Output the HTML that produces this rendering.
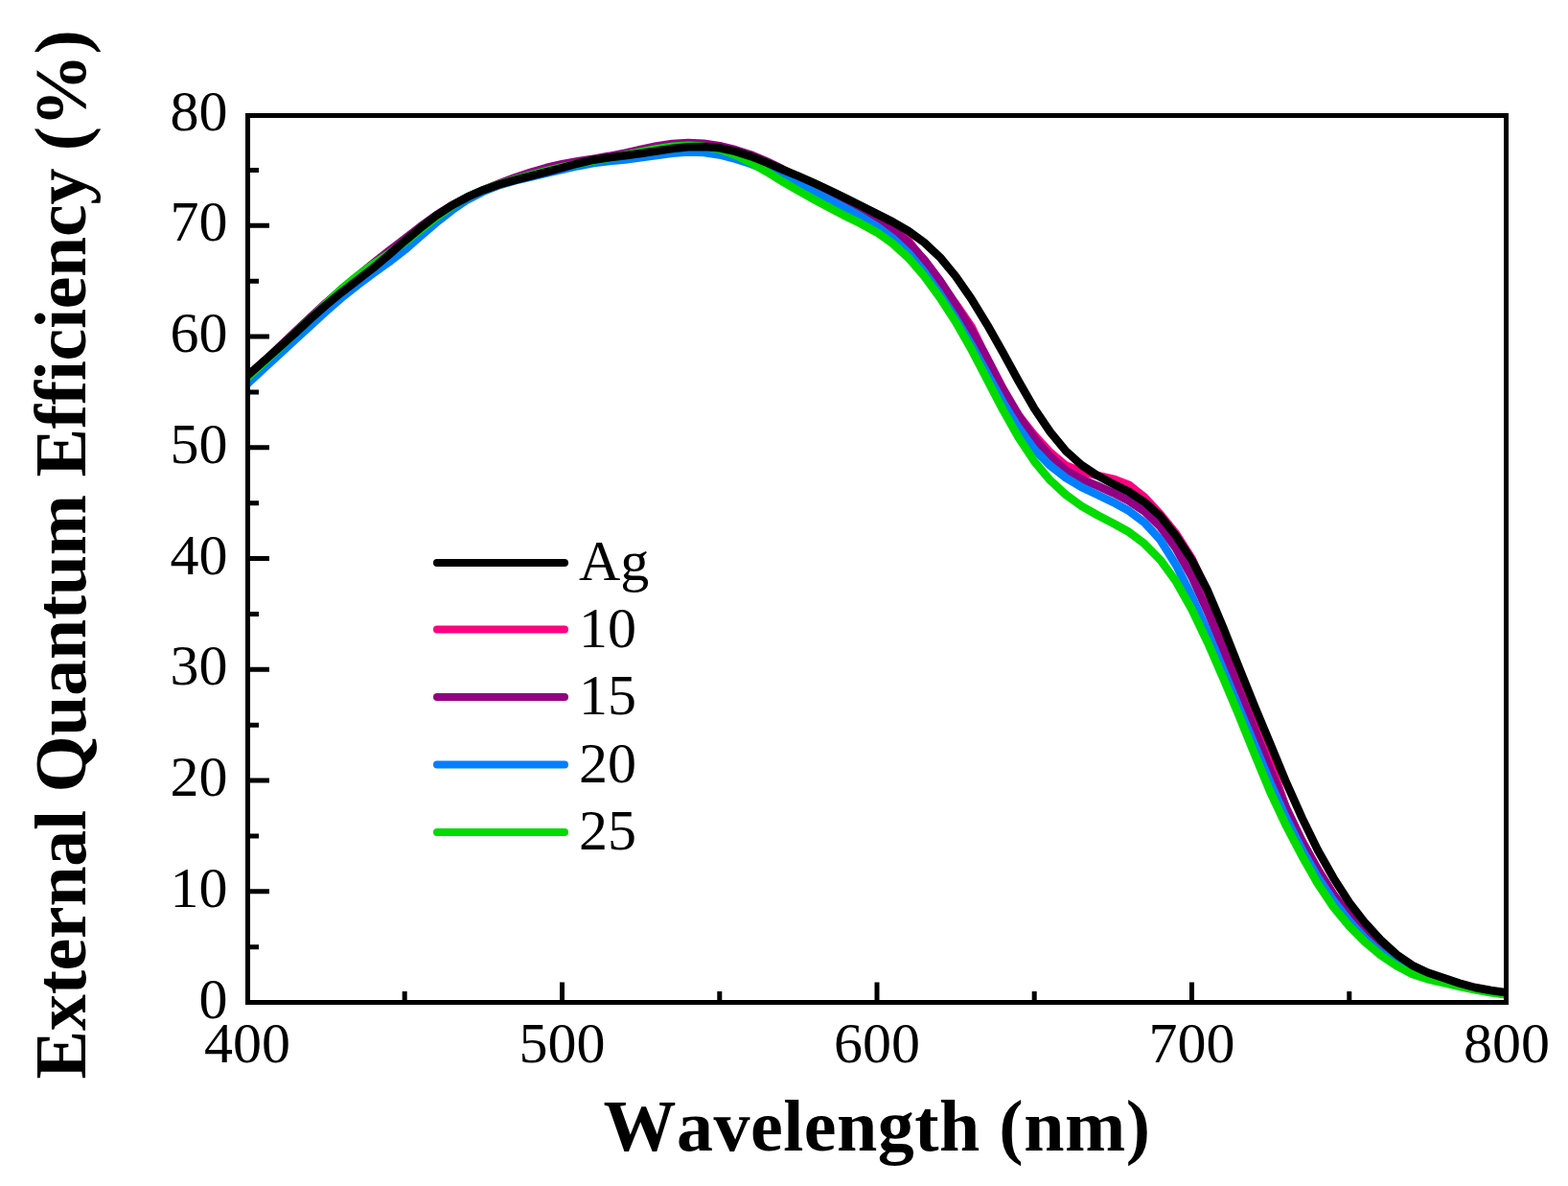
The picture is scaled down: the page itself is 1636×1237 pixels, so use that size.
<!DOCTYPE html>
<html><head><meta charset="utf-8"><title>External Quantum Efficiency</title>
<style>
html,body{margin:0;padding:0;background:#fff;}
body{width:1636px;height:1237px;overflow:hidden;}
svg{display:block;}
text{font-family:"Liberation Serif","Times New Roman",serif;fill:#000;font-kerning:none;}
.tl{font-size:60px;}
.ttl{font-size:76px;font-weight:bold;}
</style></head>
<body>
<svg width="1636" height="1237" viewBox="0 0 1636 1237">
<rect width="1636" height="1237" fill="#fff"/>
<defs><clipPath id="pc"><rect x="258.5" y="120.5" width="1313" height="925"/></clipPath></defs>
<g clip-path="url(#pc)" fill="none" stroke-width="8.5" stroke-linejoin="round" stroke-linecap="butt">
<path d="M258.0,398.6 L274.4,383.2 L290.8,363.8 L307.3,347.6 L323.7,332.1 L340.1,317.0 L356.5,302.5 L373.0,289.1 L389.4,276.1 L405.8,263.2 L422.2,250.5 L438.7,237.5 L455.1,225.5 L471.5,215.3 L487.9,206.5 L504.4,199.2 L520.8,192.9 L537.2,186.6 L553.6,180.9 L570.1,176.1 L586.5,172.0 L602.9,169.3 L619.4,166.8 L635.8,164.2 L652.2,161.2 L668.6,157.2 L685.0,153.5 L701.5,151.0 L717.9,149.8 L734.3,150.4 L750.8,153.5 L767.2,161.5 L783.6,170.5 L800.0,177.1 L816.5,183.3 L832.9,189.7 L849.3,196.7 L865.7,204.7 L882.2,213.1 L898.6,220.9 L915.0,229.3 L931.4,238.6 L947.9,251.3 L964.3,272.3 L980.7,296.1 L997.1,317.0 L1013.5,340.7 L1030.0,374.5 L1046.4,408.4 L1062.8,433.4 L1079.2,453.9 L1095.7,471.8 L1112.1,485.4 L1128.5,492.0 L1145.0,495.9 L1161.4,499.6 L1177.8,505.7 L1194.2,518.7 L1210.7,536.3 L1227.1,556.7 L1243.5,582.6 L1259.9,617.7 L1276.3,657.8 L1292.8,699.7 L1309.2,744.6 L1325.6,795.6 L1342.1,843.6 L1358.5,878.2 L1374.9,906.7 L1391.3,933.3 L1407.8,955.9 L1424.2,973.0 L1440.6,987.1 L1457.0,1001.2 L1473.5,1012.6 L1489.9,1019.1 L1506.3,1023.6 L1522.7,1028.0 L1539.2,1031.5 L1555.6,1034.3 L1572.0,1036.7" stroke="#FF0080"/>
<path d="M258.0,394.7 L274.4,378.5 L290.8,362.3 L307.3,346.5 L323.7,331.0 L340.1,316.0 L356.5,301.7 L373.0,287.9 L389.4,274.6 L405.8,261.7 L422.2,249.0 L438.7,236.3 L455.1,224.4 L471.5,214.2 L487.9,205.5 L504.4,198.1 L520.8,191.5 L537.2,185.3 L553.6,179.8 L570.1,175.0 L586.5,171.1 L602.9,168.1 L619.4,165.6 L635.8,162.8 L652.2,159.6 L668.6,155.9 L685.0,152.5 L701.5,149.9 L717.9,148.9 L734.3,149.7 L750.8,152.2 L767.2,156.2 L783.6,161.5 L800.0,168.4 L816.5,176.4 L832.9,185.0 L849.3,193.7 L865.7,202.0 L882.2,210.7 L898.6,220.0 L915.0,229.8 L931.4,240.0 L947.9,252.9 L964.3,270.8 L980.7,292.6 L997.1,317.4 L1013.5,343.9 L1030.0,373.6 L1046.4,405.2 L1062.8,433.1 L1079.2,456.7 L1095.7,476.0 L1112.1,490.6 L1128.5,499.8 L1145.0,506.7 L1161.4,514.0 L1177.8,522.4 L1194.2,533.5 L1210.7,549.5 L1227.1,572.1 L1243.5,601.6 L1259.9,637.7 L1276.3,677.7 L1292.8,720.7 L1309.2,761.9 L1325.6,803.8 L1342.1,842.8 L1358.5,877.0 L1374.9,906.8 L1391.3,932.7 L1407.8,954.6 L1424.2,972.7 L1440.6,987.8 L1457.0,1000.2 L1473.5,1010.4 L1489.9,1018.6 L1506.3,1024.2 L1522.7,1028.0 L1539.2,1031.5 L1555.6,1034.3 L1572.0,1036.7" stroke="#930083"/>
<path d="M258.0,400.4 L274.4,385.2 L290.8,370.1 L307.3,354.9 L323.7,339.8 L340.1,324.8 L356.5,310.5 L373.0,297.4 L389.4,285.2 L405.8,273.4 L422.2,260.7 L438.7,246.3 L455.1,232.2 L471.5,219.3 L487.9,208.1 L504.4,199.6 L520.8,193.1 L537.2,188.4 L553.6,184.5 L570.1,180.7 L586.5,176.9 L602.9,173.2 L619.4,170.1 L635.8,168.1 L652.2,166.6 L668.6,164.4 L685.0,162.0 L701.5,159.8 L717.9,158.5 L734.3,159.1 L750.8,161.5 L767.2,165.6 L783.6,170.9 L800.0,176.9 L816.5,183.7 L832.9,191.6 L849.3,200.0 L865.7,208.5 L882.2,217.1 L898.6,226.1 L915.0,236.2 L931.4,248.4 L947.9,263.8 L964.3,283.5 L980.7,306.5 L997.1,331.9 L1013.5,359.4 L1030.0,389.6 L1046.4,419.4 L1062.8,446.1 L1079.2,468.7 L1095.7,485.7 L1112.1,498.4 L1128.5,508.1 L1145.0,516.0 L1161.4,523.8 L1177.8,532.8 L1194.2,545.1 L1210.7,563.2 L1227.1,589.4 L1243.5,622.0 L1259.9,659.2 L1276.3,698.3 L1292.8,738.1 L1309.2,777.5 L1325.6,817.0 L1342.1,853.5 L1358.5,886.1 L1374.9,914.8 L1391.3,939.3 L1407.8,960.5 L1424.2,978.6 L1440.6,993.4 L1457.0,1005.2 L1473.5,1014.6 L1489.9,1020.4 L1506.3,1024.2 L1522.7,1028.0 L1539.2,1031.5 L1555.6,1034.3 L1572.0,1036.7" stroke="#0080FF"/>
<path d="M258.0,393.9 L274.4,378.8 L290.8,363.6 L307.3,348.2 L323.7,332.6 L340.1,316.5 L356.5,301.1 L373.0,287.6 L389.4,275.5 L405.8,264.4 L422.2,252.8 L438.7,239.6 L455.1,226.7 L471.5,215.1 L487.9,205.4 L504.4,198.1 L520.8,192.3 L537.2,187.1 L553.6,182.5 L570.1,178.2 L586.5,174.2 L602.9,170.8 L619.4,167.6 L635.8,164.7 L652.2,161.7 L668.6,158.4 L685.0,155.1 L701.5,152.7 L717.9,151.7 L734.3,152.6 L750.8,155.8 L767.2,161.7 L783.6,169.7 L800.0,179.2 L816.5,189.3 L832.9,198.9 L849.3,208.0 L865.7,216.8 L882.2,225.4 L898.6,233.4 L915.0,242.4 L931.4,254.0 L947.9,269.0 L964.3,288.0 L980.7,310.4 L997.1,335.7 L1013.5,364.4 L1030.0,396.0 L1046.4,427.5 L1062.8,456.3 L1079.2,481.2 L1095.7,500.9 L1112.1,516.0 L1128.5,527.9 L1145.0,537.3 L1161.4,545.7 L1177.8,554.8 L1194.2,567.2 L1210.7,584.1 L1227.1,606.6 L1243.5,635.7 L1259.9,669.9 L1276.3,707.4 L1292.8,746.7 L1309.2,787.1 L1325.6,826.6 L1342.1,861.6 L1358.5,892.8 L1374.9,921.7 L1391.3,946.1 L1407.8,966.0 L1424.2,982.4 L1440.6,996.2 L1457.0,1007.3 L1473.5,1015.9 L1489.9,1021.3 L1506.3,1025.1 L1522.7,1028.9 L1539.2,1032.4 L1555.6,1035.2 L1572.0,1037.6" stroke="#00DB00"/>
<path d="M258.0,391.8 L274.4,377.4 L290.8,362.8 L307.3,348.1 L323.7,332.8 L340.1,318.3 L356.5,304.8 L373.0,292.2 L389.4,279.5 L405.8,265.8 L422.2,251.4 L438.7,237.7 L455.1,225.0 L471.5,214.3 L487.9,205.4 L504.4,198.2 L520.8,192.5 L537.2,187.8 L553.6,183.6 L570.1,179.3 L586.5,175.0 L602.9,170.5 L619.4,166.7 L635.8,164.3 L652.2,162.3 L668.6,160.0 L685.0,157.5 L701.5,155.0 L717.9,153.2 L734.3,152.9 L750.8,154.3 L767.2,157.9 L783.6,163.1 L800.0,169.6 L816.5,176.8 L832.9,183.7 L849.3,190.9 L865.7,198.5 L882.2,206.6 L898.6,214.7 L915.0,223.1 L931.4,231.4 L947.9,241.0 L964.3,252.9 L980.7,268.3 L997.1,288.1 L1013.5,311.7 L1030.0,338.7 L1046.4,367.7 L1062.8,397.6 L1079.2,426.1 L1095.7,450.5 L1112.1,470.4 L1128.5,485.1 L1145.0,496.1 L1161.4,504.7 L1177.8,512.9 L1194.2,523.7 L1210.7,538.4 L1227.1,559.1 L1243.5,584.2 L1259.9,615.8 L1276.3,654.7 L1292.8,696.2 L1309.2,737.1 L1325.6,776.4 L1342.1,816.3 L1358.5,853.0 L1374.9,886.7 L1391.3,915.7 L1407.8,941.4 L1424.2,962.5 L1440.6,980.3 L1457.0,995.4 L1473.5,1006.8 L1489.9,1014.5 L1506.3,1020.0 L1522.7,1025.5 L1539.2,1030.0 L1555.6,1033.0 L1572.0,1035.3" stroke="#000000"/>
</g>
<path d="M422.2,1045.5 V1034.0 M586.5,1045.5 V1024.5 M750.8,1045.5 V1034.0 M915.0,1045.5 V1024.5 M1079.2,1045.5 V1034.0 M1243.5,1045.5 V1024.5 M1407.8,1045.5 V1034.0 M258.5,987.7 H270.0 M258.5,929.8 H281.0 M258.5,872.0 H270.0 M258.5,814.1 H281.0 M258.5,756.2 H270.0 M258.5,698.3 H281.0 M258.5,640.5 H270.0 M258.5,582.6 H281.0 M258.5,524.7 H270.0 M258.5,466.8 H281.0 M258.5,409.0 H270.0 M258.5,351.1 H281.0 M258.5,293.2 H270.0 M258.5,235.3 H281.0 M258.5,177.5 H270.0" stroke="#000" stroke-width="5" fill="none"/>
<rect x="258.5" y="120.5" width="1313" height="925" fill="none" stroke="#000" stroke-width="5"/>
<g class="tl">
<text x="237.5" y="1061.6" text-anchor="end">0</text>
<text x="237.5" y="945.8" text-anchor="end">10</text>
<text x="237.5" y="830.1" text-anchor="end">20</text>
<text x="237.5" y="714.3" text-anchor="end">30</text>
<text x="237.5" y="598.6" text-anchor="end">40</text>
<text x="237.5" y="482.8" text-anchor="end">50</text>
<text x="237.5" y="367.1" text-anchor="end">60</text>
<text x="237.5" y="251.3" text-anchor="end">70</text>
<text x="237.5" y="135.6" text-anchor="end">80</text>
<text x="258.0" y="1108" text-anchor="middle">400</text>
<text x="586.5" y="1108" text-anchor="middle">500</text>
<text x="915.0" y="1108" text-anchor="middle">600</text>
<text x="1243.5" y="1108" text-anchor="middle">700</text>
<text x="1572.0" y="1108" text-anchor="middle">800</text>
</g>
<g class="tl">
<line x1="456" y1="587" x2="589" y2="587" stroke="#000000" stroke-width="8" stroke-linecap="round"/>
<text x="604" y="605">Ag</text>
<line x1="456" y1="656.5" x2="589" y2="656.5" stroke="#FF0080" stroke-width="8" stroke-linecap="round"/>
<text x="604" y="674.5">10</text>
<line x1="456" y1="727" x2="589" y2="727" stroke="#930083" stroke-width="8" stroke-linecap="round"/>
<text x="604" y="745">15</text>
<line x1="456" y1="797.5" x2="589" y2="797.5" stroke="#0080FF" stroke-width="8" stroke-linecap="round"/>
<text x="604" y="815.5">20</text>
<line x1="456" y1="868" x2="589" y2="868" stroke="#00DB00" stroke-width="8" stroke-linecap="round"/>
<text x="604" y="886">25</text>
</g>
<text class="ttl" x="915" y="1200" text-anchor="middle" letter-spacing="0.5">Wavelength (nm)</text>
<text class="ttl" transform="translate(88.5,578.5) rotate(-90)" text-anchor="middle" letter-spacing="-0.33">External Quantum Efficiency (%)</text>
</svg>
</body></html>
